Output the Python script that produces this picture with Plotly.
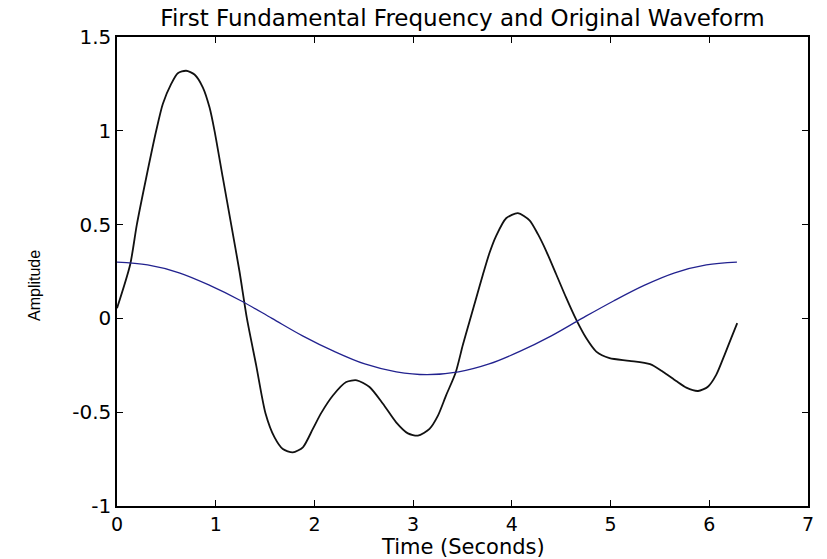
import plotly.graph_objects as go

# Original waveform (black)
t_wave = [0.000, 0.133, 0.201, 0.296, 0.397, 0.464, 0.549, 0.616, 0.700, 0.785,
          0.869, 0.937, 0.988, 1.072, 1.157, 1.241, 1.316, 1.410, 1.504, 1.596,
          1.680, 1.781, 1.883, 1.984, 2.068, 2.187, 2.322, 2.430, 2.558, 2.694,
          2.828, 2.947, 3.048, 3.166, 3.250, 3.335, 3.430, 3.504, 3.571, 3.639,
          3.707, 3.774, 3.840, 3.942, 4.061, 4.179, 4.264, 4.348, 4.450, 4.551,
          4.652, 4.753, 4.855, 4.990, 5.190, 5.400, 5.530, 5.665, 5.767, 5.886,
          5.986, 6.070, 6.155, 6.222, 6.283]
v_wave = [0.054, 0.286, 0.500, 0.750, 1.000, 1.143, 1.250, 1.307, 1.320, 1.300,
          1.232, 1.125, 1.000, 0.750, 0.500, 0.250, 0.000, -0.250, -0.505, -0.634,
          -0.696, -0.714, -0.687, -0.589, -0.505, -0.411, -0.339, -0.330, -0.366, -0.455,
          -0.554, -0.613, -0.625, -0.589, -0.520, -0.409, -0.290, -0.141, -0.016, 0.109,
          0.234, 0.350, 0.439, 0.534, 0.561, 0.523, 0.449, 0.359, 0.234, 0.109,
          -0.007, -0.105, -0.177, -0.212, -0.226, -0.244, -0.284, -0.334, -0.369, -0.387,
          -0.364, -0.301, -0.194, -0.105, -0.025]

# First fundamental frequency (blue)
t_fund = [0.00, 0.31, 0.63, 0.94, 1.26, 1.57, 1.88, 2.20, 2.51, 2.83, 3.14,
          3.46, 3.77, 4.08, 4.40, 4.71, 5.03, 5.34, 5.65, 5.97, 6.28]
v_fund = [0.300, 0.285, 0.243, 0.176, 0.093, 0.000, -0.093, -0.176, -0.243, -0.285, -0.300,
          -0.285, -0.243, -0.176, -0.093, 0.000, 0.093, 0.176, 0.243, 0.285, 0.300]

x_ticks = [0, 1, 2, 3, 4, 5, 6, 7]
y_ticks = [-1, -0.5, 0, 0.5, 1, 1.5]
y_tick_labels = ["-1", "-0.5", "0", "0.5", "1", "1.5"]

fig = go.Figure()
fig.add_trace(go.Scatter(x=t_wave, y=v_wave, mode="lines",
                         line=dict(color="#111111", width=1.8, shape="spline", smoothing=0.7),
                         showlegend=False))
fig.add_trace(go.Scatter(x=t_fund, y=v_fund, mode="lines",
                         line=dict(color="#22228f", width=1.3, shape="spline"),
                         showlegend=False))

font = "DejaVu Sans, sans-serif"
axis_common = dict(showgrid=False, zeroline=False, showline=True, linecolor="black",
                   linewidth=1.5, mirror="ticks", ticks="inside", ticklen=6,
                   tickcolor="black", tickwidth=1.2)

fig.update_layout(
    width=827, height=559,
    margin=dict(l=117, r=19, t=37, b=53),
    paper_bgcolor="white", plot_bgcolor="white",
    title=dict(text="First Fundamental Frequency and Original Waveform",
               font=dict(family=font, size=23, color="black"),
               x=0.5, xref="paper", xanchor="center",
               y=1 - 18 / 559, yref="container", yanchor="middle"),
    xaxis=dict(range=[0, 7], tickvals=x_ticks, ticklabelstandoff=0,
               tickfont=dict(family=font, size=19, color="black"), **axis_common),
    yaxis=dict(range=[-1, 1.5], tickvals=y_ticks, ticktext=y_tick_labels,
               ticklabelstandoff=0,
               tickfont=dict(family=font, size=20, color="black"), **axis_common),
    annotations=[
        dict(text="Time (Seconds)", xref="paper", yref="paper", x=0.5, y=-0.0875,
             xanchor="center", yanchor="middle", showarrow=False,
             font=dict(family=font, size=21, color="black")),
        dict(text="Amplitude", xref="paper", yref="paper", x=-0.1195, y=0.47,
             xanchor="center", yanchor="middle", showarrow=False, textangle=-90,
             font=dict(family="Liberation Sans Narrow, Liberation Sans, Arial, sans-serif",
                       size=16, color="black")),
    ],
)

fig.write_html("out.html")
